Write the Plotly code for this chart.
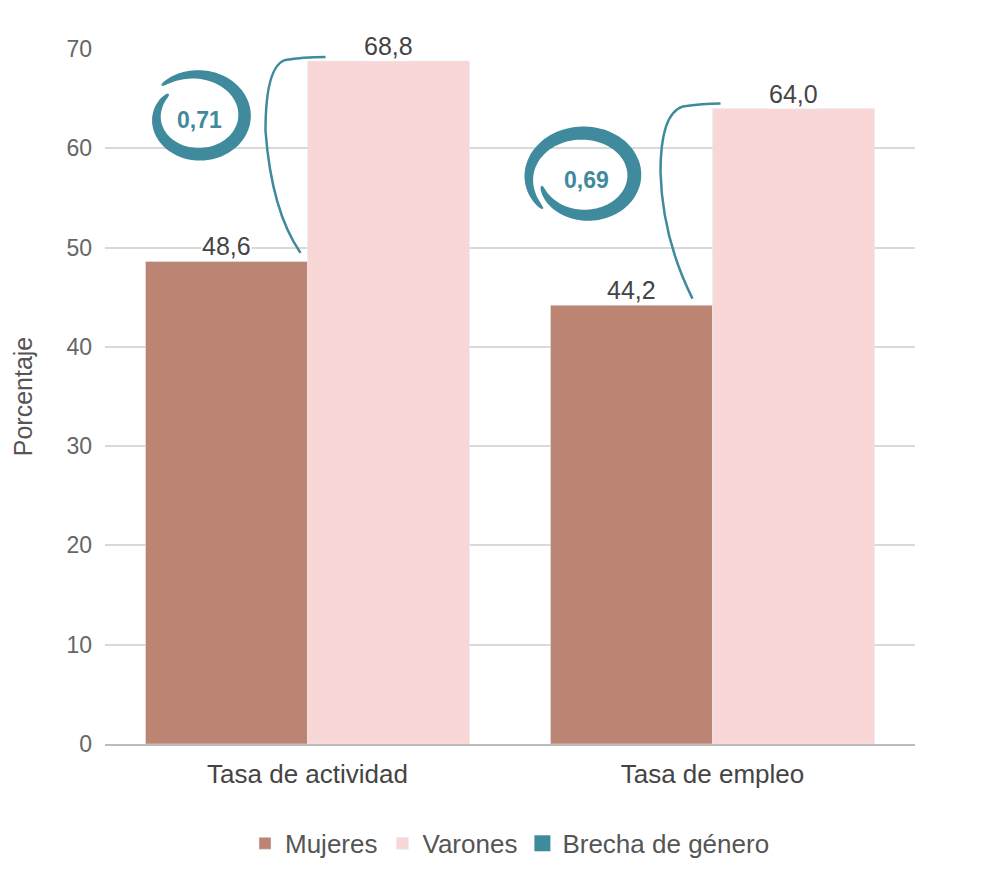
import numpy as np
import plotly.graph_objects as go

categories = ["Tasa de actividad", "Tasa de empleo"]
mujeres = [48.6, 44.2]
varones = [68.8, 64.0]
brecha = [0.71, 0.69]
y_ticks = [0, 10, 20, 30, 40, 50, 60, 70]

C_MUJ = "#bc8472"
C_VAR = "#f9d7d7"
C_BRE = "#3f8a9c"
FONT = "Liberation Sans, Arial, sans-serif"


def fmt(v, nd=1):
    return f"{v:.{nd}f}".replace(".", ",")


def swirl_path(cx, cy, rx, ry, a0, a1, r0, r1, tmax, tmin=1.5):
    """Filled spiral band, pixel coords relative to anchor (y up)."""
    th = np.radians(np.linspace(a0, a1, 120))
    s = np.linspace(0, 1, th.size)
    r = r0 + (r1 - r0) * s
    t = tmin + (tmax - tmin) * np.sin(np.pi * s) ** 0.5
    outer = [(cx + (rx * r[i] + t[i] / 2) * np.cos(th[i]),
              cy + (ry * r[i] + t[i] / 2) * np.sin(th[i])) for i in range(th.size)]
    inner = [(cx + (rx * r[i] - t[i] / 2) * np.cos(th[i]),
              cy + (ry * r[i] - t[i] / 2) * np.sin(th[i])) for i in range(th.size)][::-1]
    pts = outer + inner
    return "M" + " L".join(f"{x:.1f},{y:.1f}" for x, y in pts) + " Z"


def curve_path(pts):
    p = pts
    d = f"M{p[0][0]},{p[0][1]}"
    for i in range(1, len(p) - 1, 2):
        d += f" Q{p[i][0]},{p[i][1]} {p[i+1][0]},{p[i+1][1]}"
    return d


fig = go.Figure()
fig.add_trace(go.Bar(x=categories, y=mujeres, name="Mujeres", marker_color=C_MUJ))
fig.add_trace(go.Bar(x=categories, y=varones, name="Varones", marker_color=C_VAR))
fig.add_trace(go.Scatter(x=[None], y=[None], mode="markers", name="Brecha de género",
                         marker=dict(symbol="square", size=16, color=C_BRE)))

# value labels
for i, cat in enumerate(categories):
    for val, shift in ((mujeres[i], -81), (varones[i], 81)):
        fig.add_annotation(x=cat, y=val, xshift=shift, yshift=0, text=fmt(val),
                           showarrow=False, yanchor="bottom", bgcolor="white",
                           borderpad=0, font=dict(size=25, color="#444", family=FONT))

# gender gap swirls and connectors (pixel offsets anchored on Varones bar top)
swirls = [
    dict(cx=-110, cy=-56, rx=46, ry=39, a0=137, a1=494, r0=0.86, r1=1.12, t=13,
         curve=[(-7, -192), (-36, -150), (-42, -70), (-42, -5), (-22, 1), (-5, 4), (18, 4)]),
    dict(cx=-128, cy=-68, rx=57, ry=47, a0=223, a1=-165, r0=1.0, r1=0.78, t=14,
         curve=[(-20, -190), (-50, -130), (-52, -64), (-52, -5), (-30, 2), (-10, 5), (8, 5)]),
]
for i, cat in enumerate(categories):
    sw = swirls[i]
    fig.add_shape(type="path", xref="x", yref="y", xsizemode="pixel", ysizemode="pixel",
                  xanchor=i, yanchor=varones[i],
                  path=swirl_path(sw["cx"], sw["cy"], sw["rx"], sw["ry"], sw["a0"], sw["a1"],
                                  sw["r0"], sw["r1"], sw["t"]),
                  fillcolor=C_BRE, line=dict(width=0), layer="above")
    fig.add_shape(type="path", xref="x", yref="y", xsizemode="pixel", ysizemode="pixel",
                  xanchor=i, yanchor=varones[i], path=curve_path(sw["curve"]),
                  line=dict(color=C_BRE, width=2.5), layer="above")
    fig.add_annotation(x=cat, y=varones[i], xshift=sw["cx"] + 2, yshift=sw["cy"] - 3,
                       text=f"<b>{fmt(brecha[i], 2)}</b>", showarrow=False,
                       font=dict(size=23, color=C_BRE, family=FONT))

fig.update_layout(
    width=1000, height=883,
    margin=dict(l=97, r=93, t=41, b=147),
    paper_bgcolor="white", plot_bgcolor="white",
    barmode="group", bargap=0.2, bargroupgap=0,
    font=dict(family=FONT, color="#555"),
    legend=dict(orientation="h", x=0.5, xanchor="center", y=-0.143, yanchor="middle",
                font=dict(size=26, color="#555"), itemwidth=30),
    showlegend=True,
)
fig.update_xaxes(tickfont=dict(size=26, color="#444"), ticks="", showline=True,
                 linecolor="#bcbcbc", linewidth=2, ticklabelstandoff=6)
fig.update_yaxes(range=[0, 70], tickvals=y_ticks, tickfont=dict(size=23, color="#666"),
                 gridcolor="#d9d9d9", gridwidth=2, zeroline=False, ticklen=0,
                 ticklabelstandoff=12,
                 title=dict(text="Porcentaje", font=dict(size=25, color="#555"), standoff=26))

fig.write_html("out.html")
